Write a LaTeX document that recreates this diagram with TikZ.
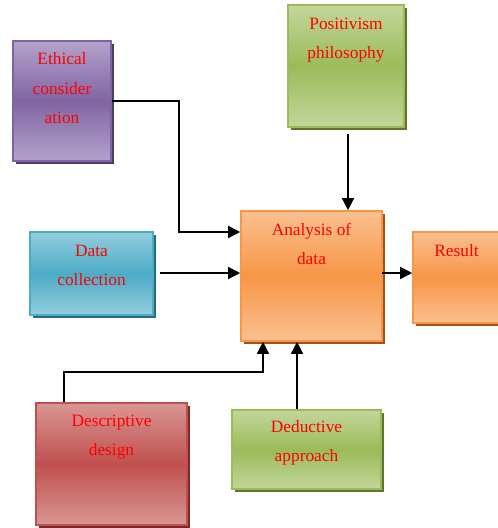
\documentclass[tikz,border=0pt]{standalone}
\usepackage{fontspec}
\setmainfont{Liberation Serif}
\usetikzlibrary{fit,shadows,arrows.meta,calc}
\definecolor{purL}{HTML}{B3A3CB}\definecolor{purM}{HTML}{8064A2}\definecolor{purS}{HTML}{4E3B66}
\definecolor{grnL}{HTML}{C3D69B}\definecolor{grnM}{HTML}{9BBB59}\definecolor{grnS}{HTML}{5E7530}
\definecolor{orgL}{HTML}{FAC090}\definecolor{orgM}{HTML}{F79646}\definecolor{orgS}{HTML}{A0521A}
\definecolor{bluL}{HTML}{93CDDD}\definecolor{bluM}{HTML}{4BACC6}\definecolor{bluS}{HTML}{2C6A7C}
\definecolor{redL}{HTML}{D99694}\definecolor{redM}{HTML}{C0504D}\definecolor{redS}{HTML}{7A2B29}
\tikzset{
  boxbase/.style={inner sep=0pt, line width=1.2pt},
  purbox/.style={boxbase, draw=purM, top color=purL, bottom color=purL, middle color=purM,
     drop shadow={shadow xshift=2.2pt, shadow yshift=-2.2pt, fill=purS, opacity=1}},
  grnbox/.style={boxbase, draw=grnM, top color=grnL, bottom color=grnL, middle color=grnM,
     drop shadow={shadow xshift=2.2pt, shadow yshift=-2.2pt, fill=grnS, opacity=1}},
  orgbox/.style={boxbase, draw=orgM, top color=orgL, bottom color=orgL, middle color=orgM,
     drop shadow={shadow xshift=2.2pt, shadow yshift=-2.2pt, fill=orgS, opacity=1}},
  blubox/.style={boxbase, draw=bluM, top color=bluL, bottom color=bluL, middle color=bluM,
     drop shadow={shadow xshift=2.2pt, shadow yshift=-2.2pt, fill=bluS, opacity=1}},
  redbox/.style={boxbase, draw=redM, top color=redL, bottom color=redL, middle color=redM,
     drop shadow={shadow xshift=2.2pt, shadow yshift=-2.2pt, fill=redS, opacity=1}},
  lbl/.style={text=red, font=\fontsize{13}{22.1}\selectfont, align=center, inner sep=0pt, anchor=base},
  arr/.style={line width=1pt, -{Triangle[length=9pt,width=9pt]}}
}
\begin{document}
\begin{tikzpicture}[x=0.75pt,y=-0.75pt]
\useasboundingbox (0,0) rectangle (497,528);
% boxes
\node[fit={(13,41)(111,161)}, purbox] (eth) {};
\node[fit={(288,5)(404,127)}, grnbox] (pos) {};
\node[fit={(241,211)(382,341)}, orgbox] (ana) {};
\node[fit={(413,232)(500,323)}, orgbox] (res) {};
\node[fit={(30,232)(153,315)}, blubox] (dat) {};
\node[fit={(36,403)(187,525)}, redbox] (des) {};
\node[fit={(232,410)(381,489)}, grnbox] (ded) {};
% labels (base = baseline of last line)
\node[lbl] (ethT) at ($(eth.north)+(0,83.5)$) {Ethical\\consider\\ation};
\node[lbl] (posT) at ($(pos.north)+(0,54.5)$) {Positivism\\philosophy};
\node[lbl] (anaT) at ($(ana.north)+(0,54.5)$) {Analysis of\\data};
\node[lbl] (resT) at ($(res.north)+(0,25)$) {Result};
\node[lbl] (datT) at ($(dat.north)+(0,54.5)$) {Data\\collection};
\node[lbl] (desT) at ($(des.north)+(0,53.5)$) {Descriptive\\design};
\node[lbl] (dedT) at ($(ded.north)+(0,52.5)$) {Deductive\\approach};
% connectors
\coordinate (c1) at (179,232);
\coordinate (c2) at (64,372);
\coordinate (c3) at (263,372);
\coordinate (c4) at (297,400);
\coordinate (c5) at (160,273);
\coordinate (c6) at (348,134);
\coordinate (c7) at (382,273);
\draw[arr] (eth.east) -| (c1) -- (c1 -| ana.west);
\draw[arr] (c5) -- (c5 -| ana.west);
\draw[arr] (c6) -- (c6 |- ana.north);
\draw[arr] (c7) -- (c7 -| res.west);
\draw[arr] (c2 |- des.north) -- (c2) -- (c3) -- (c3 |- ana.south);
\draw[arr] (c4 |- ded.north) -- (c4 |- ana.south);
\end{tikzpicture}
\end{document}
